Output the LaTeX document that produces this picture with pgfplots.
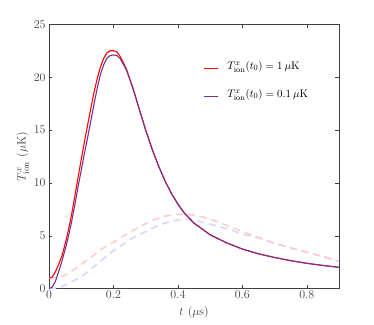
\documentclass[border=0pt]{standalone}
\usepackage{pgfplots}
\pgfplotsset{compat=1.18}
\definecolor{myred}{rgb}{1,0,0}
\definecolor{mypurple}{rgb}{0.494,0.184,0.556}
\definecolor{dashred}{rgb}{1,0.80,0.80}
\definecolor{dashblue}{rgb}{0.84,0.84,1}
\definecolor{axgray}{gray}{0.25}

\begin{document}
\begin{tikzpicture}
\begin{axis}[
  name=ax,
  scale only axis,
  width=290bp, height=264.4bp,
  xmin=0, xmax=0.9, ymin=0, ymax=25,
  xtick={0,0.2,0.4,0.6,0.8},
  ytick={0,5,10,15,20,25},
  tick align=inside,
  major tick length=3.5bp,
  axis line style={axgray, line width=0.6pt},
  tick style={axgray, line width=0.5pt},
  ticklabel style={font=\fontsize{12}{14}\selectfont, text=axgray},
  xticklabel style={yshift=1bp},
  xlabel={$t\ (\mu\mathrm{s})$},
  ylabel={$T^{x}_{\mathrm{ion}}\ (\mu\mathrm{K})$},
  label style={font=\fontsize{13}{15}\selectfont, text=axgray},
  xlabel style={yshift=-1bp},
  ylabel style={yshift=-2bp},
  clip=false,
]
% dashed reference curves (faint)
\addplot[dashblue, line width=1.6pt, dash pattern=on 7bp off 5bp] coordinates {
  (0,0) (0.02,0.05) (0.04,0.2) (0.06,0.5) (0.08,0.8) (0.10,1.1) (0.12,1.6) (0.14,2.1)
  (0.16,2.6) (0.18,3.1) (0.20,3.6) (0.22,4.0) (0.24,4.4) (0.26,4.8) (0.28,5.1) (0.30,5.4)
  (0.33,5.85) (0.36,6.2) (0.39,6.45) (0.42,6.6) (0.45,6.5) (0.48,6.25) (0.52,5.95)
  (0.56,5.6) (0.60,5.15) (0.65,4.8) (0.70,4.3) (0.75,3.85) (0.80,3.45) (0.85,3.05) (0.90,2.6)
};
\addplot[dashred, line width=1.6pt, dash pattern=on 7bp off 5bp] coordinates {
  (0,1.0) (0.02,1.05) (0.04,1.15) (0.06,1.45) (0.08,1.85) (0.10,2.3) (0.12,2.75) (0.14,3.2)
  (0.16,3.7) (0.18,4.05) (0.20,4.4) (0.22,4.8) (0.24,5.15) (0.26,5.5) (0.28,5.85) (0.30,6.15)
  (0.33,6.55) (0.36,6.85) (0.39,7.02) (0.42,7.05) (0.45,6.95) (0.48,6.75) (0.52,6.35)
  (0.56,5.9) (0.60,5.4) (0.65,4.85) (0.70,4.3) (0.75,3.85) (0.80,3.45) (0.85,3.05) (0.90,2.6)
};
% solid curves
\addplot[myred, line width=1.1pt] coordinates {
  (0,1.0) (0.01,1.1) (0.02,1.6) (0.03,2.3) (0.04,3.1) (0.05,4.2) (0.06,5.5) (0.07,7.0)
  (0.08,8.7) (0.09,10.5) (0.10,12.2) (0.11,13.9) (0.12,15.5) (0.13,17.1) (0.14,18.6)
  (0.15,19.9) (0.16,21.0) (0.17,21.8) (0.18,22.3) (0.19,22.5) (0.20,22.5) (0.21,22.4)
  (0.22,22.0) (0.24,20.8) (0.26,19.0) (0.28,17.0) (0.30,15.0) (0.32,13.2) (0.34,11.6)
  (0.36,10.2) (0.38,9.0) (0.40,8.0) (0.42,7.15) (0.45,6.2) (0.50,5.1) (0.55,4.35)
  (0.60,3.75) (0.65,3.3) (0.70,2.95) (0.75,2.65) (0.80,2.4) (0.85,2.2) (0.90,2.02)
};
\addplot[mypurple, line width=1.1pt] coordinates {
  (0,0) (0.01,0.15) (0.02,0.7) (0.03,1.6) (0.04,2.6) (0.05,3.7) (0.06,4.9) (0.07,6.3)
  (0.08,7.9) (0.09,9.6) (0.10,11.2) (0.11,12.8) (0.12,14.3) (0.13,15.9) (0.14,17.5)
  (0.15,19.0) (0.16,20.3) (0.17,21.2) (0.18,21.8) (0.19,22.05) (0.20,22.1) (0.21,22.05)
  (0.22,21.8) (0.24,20.7) (0.26,19.0) (0.28,17.0) (0.30,15.0) (0.32,13.2) (0.34,11.6)
  (0.36,10.2) (0.38,9.0) (0.40,8.0) (0.42,7.15) (0.45,6.2) (0.50,5.1) (0.55,4.35)
  (0.60,3.75) (0.65,3.3) (0.70,2.95) (0.75,2.65) (0.80,2.4) (0.85,2.2) (0.90,2.02)
};
% legend (sample lines plotted in axis units, labels beside them)
\addplot[myred, line width=1.1pt] coordinates {(0.481,20.86) (0.5245,20.86)};
\addplot[mypurple, line width=1.1pt] coordinates {(0.481,18.21) (0.5245,18.21)};
\node[anchor=west, inner sep=0pt, font=\fontsize{11}{13}\selectfont, yshift=1.5bp]
  at (axis cs:0.553,20.86) {$T^{x}_{\mathrm{ion}}(t_0) = 1\,\mu\mathrm{K}$};
\node[anchor=west, inner sep=0pt, font=\fontsize{11}{13}\selectfont, yshift=1.5bp]
  at (axis cs:0.553,18.21) {$T^{x}_{\mathrm{ion}}(t_0) = 0.1\,\mu\mathrm{K}$};
\end{axis}
\path ([shift={(-49bp,-36.3bp)}]ax.south west) rectangle ++(374bp,325bp);
\end{tikzpicture}
\end{document}
